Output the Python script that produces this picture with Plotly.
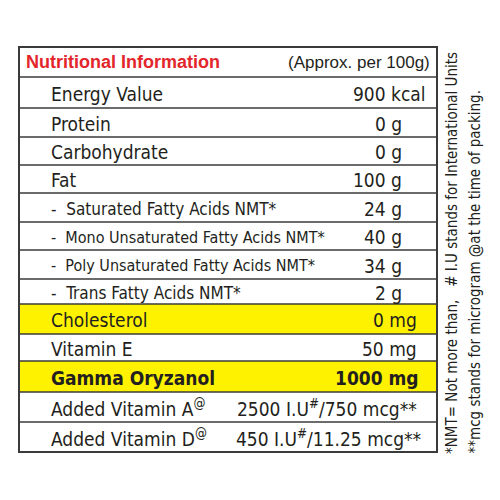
import plotly.graph_objects as go

labels = ["Energy Value", "Protein", "Carbohydrate", "Fat",
          "-  Saturated Fatty Acids NMT*", "-  Mono Unsaturated Fatty Acids NMT*",
          "-  Poly Unsaturated Fatty Acids NMT*", "-  Trans Fatty Acids NMT*",
          "Cholesterol", "Vitamin E", "Gamma Oryzanol",
          "Added Vitamin A<sup>@</sup>", "Added Vitamin D<sup>@</sup>"]
values = ["900 kcal", "0 g", "0 g", "100 g", "24 g", "40 g", "34 g", "2 g",
          "0 mg", "50 mg", "1000 mg",
          "2500 I.U<sup>#</sup>/750 mcg**", "450 I.U<sup>#</sup>/11.25 mcg**"]
highlight = [False] * 8 + [True, False, True, False, False]
bold = [False] * 10 + [True, False, False]
row_edges = [47, 77, 108, 137, 165, 193, 222, 250, 279, 304, 334, 361, 392, 422, 452]
value_right = [428, 404, 404, 404, 404, 404, 404, 404, 419, 419, 421, 419, 424]
label_size = [19, 19, 19, 19, 17, 16, 16, 17, 19, 19, 19, 19, 19]
notes = ["*NMT= Not more than,   # I.U stands for International Units",
         "**mcg stands for microgram @at the time of packing."]

FONT = "DejaVu Sans Condensed, Liberation Sans Narrow, Arial Narrow, sans-serif"
LEFT, RIGHT = 19, 437
OFF = 8  # page body margin

fig = go.Figure()
fig.add_trace(go.Scatter(x=[OFF, 500 + OFF], y=[OFF, 500 + OFF], mode="markers",
                         marker=dict(opacity=0), hoverinfo="skip", showlegend=False))

shapes = []
annotations = []
for i, (lab, val) in enumerate(zip(labels, values)):
    y0, y1 = row_edges[i + 1], row_edges[i + 2]
    ym = (y0 + y1) / 2
    if highlight[i]:
        shapes.append(dict(type="rect", x0=LEFT, x1=RIGHT, y0=y0, y1=y1,
                           fillcolor="#fff200", line=dict(width=0), layer="below"))
    b = "<b>%s</b>" if bold[i] else "%s"
    annotations.append(dict(x=49, y=ym + 1, text=b % lab, showarrow=False,
                            xanchor="left", yanchor="middle",
                            font=dict(family=FONT, size=label_size[i], color="#231f20")))
    annotations.append(dict(x=value_right[i], y=ym + 1, text=b % val, showarrow=False,
                            xanchor="right", yanchor="middle",
                            font=dict(family=FONT, size=19, color="#231f20")))

for e in row_edges[1:-1]:
    shapes.append(dict(type="line", x0=LEFT, x1=RIGHT, y0=e, y1=e,
                       line=dict(color="#3a3a3a", width=1.5)))
shapes.append(dict(type="rect", x0=LEFT, x1=RIGHT, y0=row_edges[0], y1=row_edges[-1],
                   line=dict(color="#3a3a3a", width=2)))

# header
annotations.append(dict(x=24, y=62, text="<b>Nutritional Information</b>", showarrow=False,
                        xanchor="left", yanchor="middle",
                        font=dict(family="Liberation Sans, Arial, sans-serif", size=18, color="#e3262b")))
annotations.append(dict(x=432, y=62, text="(Approx. per 100g)", showarrow=False,
                        xanchor="right", yanchor="middle",
                        font=dict(family="Liberation Sans, Arial, sans-serif", size=17, color="#231f20")))

# rotated footnotes
for xn, note in zip([452, 474], notes):
    annotations.append(dict(x=xn, y=456, text=note, showarrow=False, textangle=-90,
                            xanchor="center", yanchor="bottom",
                            font=dict(family=FONT, size=15, color="#231f20")))

fig.update_layout(
    width=500, height=500, margin=dict(l=0, r=0, t=0, b=0),
    paper_bgcolor="white", plot_bgcolor="white",
    xaxis=dict(range=[OFF, 500 + OFF], visible=False, fixedrange=True),
    yaxis=dict(range=[500 + OFF, OFF], visible=False, fixedrange=True),
    shapes=shapes, annotations=annotations,
)
fig.write_html("out.html")
